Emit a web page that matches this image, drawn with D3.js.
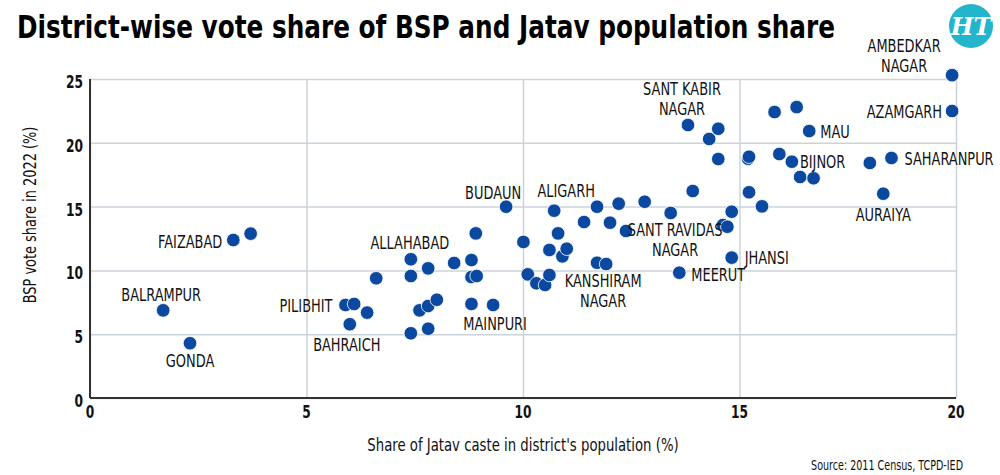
<html>
<head>
<script src="https://cdnjs.cloudflare.com/ajax/libs/d3/7.8.5/d3.min.js"></script>
<style>
  body { margin: 0; background: #fff; }
  svg text { font-family: "Liberation Sans Narrow", "DejaVu Sans Condensed", "Roboto", sans-serif; }
</style>
</head>
<body>
<div id="chart"></div>
<script>

// data
var district = ["BALRAMPUR", "GONDA", "FAIZABAD", "", "PILIBHIT", "", "", "BAHRAICH", "", "ALLAHABAD",
  "", "", "", "", "", "", "", "", "", "",
  "", "", "", "MAINPURI", "BUDAUN", "", "", "", "", "",
  "", "ALIGARH", "", "", "", "", "", "", "KANSHIRAM NAGAR", "",
  "", "SANT RAVIDAS NAGAR", "", "", "MEERUT", "SANT KABIR NAGAR", "", "", "", "",
  "", "", "", "JHANSI", "", "", "", "", "", "",
  "BIJNOR", "", "", "MAU", "", "", "AURAIYA", "SAHARANPUR", "AZAMGARH", "AMBEDKAR NAGAR"];

var jatavShare = [1.69, 2.31, 3.31, 3.71, 5.90, 6.10, 6.40, 6.00, 6.61, 7.41,
  7.41, 7.81, 8.41, 8.81, 8.81, 8.93, 8.91, 7.61, 7.81, 8.01,
  7.41, 7.81, 8.81, 9.31, 9.61, 10.01, 10.11, 10.31, 10.51, 10.61,
  10.61, 10.72, 10.81, 10.91, 11.01, 11.41, 11.71, 11.71, 11.92, 12.01,
  12.21, 12.38, 12.81, 13.41, 13.61, 13.81, 13.92, 14.30, 14.51, 14.51,
  14.62, 14.72, 14.82, 14.82, 15.20, 15.22, 15.22, 15.52, 15.81, 15.92,
  16.21, 16.32, 16.40, 16.61, 16.71, 18.01, 18.32, 18.51, 19.91, 19.91];

var bspShare = [6.87, 4.29, 12.38, 12.88, 7.29, 7.37, 6.69, 5.78, 9.38, 10.87,
  9.56, 10.16, 10.58, 10.81, 9.48, 9.56, 12.90, 6.87, 7.21, 7.70,
  5.07, 5.43, 7.37, 7.29, 14.99, 12.23, 9.69, 8.99, 8.86, 9.64,
  11.60, 14.68, 12.90, 11.10, 11.70, 13.79, 14.99, 10.60, 10.50, 13.74,
  15.23, 13.09, 15.38, 14.50, 9.82, 21.39, 16.22, 20.30, 21.10, 18.73,
  13.56, 13.42, 14.60, 11.00, 18.75, 18.91, 16.12, 15.02, 22.41, 19.12,
  18.52, 22.80, 17.32, 20.92, 17.22, 18.42, 16.01, 18.81, 22.49, 25.30];

var xTicks = [0, 5, 10, 15, 20];
var yTicks = [0, 5, 10, 15, 20, 25];

// label placement relative to its dot
var labelPos = {
  "AMBEDKAR NAGAR":     {dx: -48, dy: -23, anchor: "middle"},
  "AZAMGARH":           {dx: -10, dy: 7,   anchor: "end"},
  "SANT KABIR NAGAR":   {dx: -6,  dy: -30, anchor: "middle", split: 2},
  "MAU":                {dx: 11,  dy: 7,   anchor: "start"},
  "BIJNOR":             {dx: 8,   dy: 6,   anchor: "start"},
  "SAHARANPUR":         {dx: 13,  dy: 7,   anchor: "start"},
  "AURAIYA":            {dx: 0,   dy: 27,  anchor: "middle"},
  "JHANSI":             {dx: 13,  dy: 6,   anchor: "start"},
  "MEERUT":             {dx: 12,  dy: 8,   anchor: "start"},
  "SANT RAVIDAS NAGAR": {dx: 49,  dy: 5,   anchor: "middle", split: 2},
  "KANSHIRAM NAGAR":    {dx: -3,  dy: 23,  anchor: "middle"},
  "MAINPURI":           {dx: 2,   dy: 25,  anchor: "middle"},
  "ALLAHABAD":          {dx: -1,  dy: -10, anchor: "middle"},
  "BUDAUN":             {dx: -13, dy: -8,  anchor: "middle"},
  "ALIGARH":            {dx: 12,  dy: -14, anchor: "middle"},
  "FAIZABAD":           {dx: -11, dy: 8,   anchor: "end"},
  "BALRAMPUR":          {dx: -2,  dy: -9,  anchor: "middle"},
  "GONDA":              {dx: 0,   dy: 24,  anchor: "middle"},
  "PILIBHIT":           {dx: -13, dy: 7,   anchor: "end"},
  "BAHRAICH":           {dx: -3,  dy: 27,  anchor: "middle"}
};

var W = 1000, H = 475;
var plotL = 90, plotR = 956, plotT = 79, plotB = 398;
var squeeze = 0.8;   // the original uses a condensed face

var svg = d3.select("#chart").append("svg")
  .attr("width", W)
  .attr("height", H);

var x = d3.scaleLinear().domain([0, 20]).range([plotL, plotR]);
var y = d3.scaleLinear().domain([0, 25]).range([plotB, plotT]);

// put a text at (px,py) squeezed horizontally
function narrowText(g, px, py, sx) {
  return g.append("text")
    .attr("transform", "translate(" + px + "," + py + ") scale(" + sx + ",1)");
}

// title
svg.append("text")
  .attr("x", 17)
  .attr("y", 38)
  .attr("textLength", 818)
  .attr("lengthAdjust", "spacingAndGlyphs")
  .style("font-size", "32px")
  .style("font-weight", "bold")
  .style("fill", "#000")
  .text("District-wise vote share of BSP and Jatav population share");

// HT logo
svg.append("circle")
  .attr("cx", 971).attr("cy", 26).attr("r", 22)
  .style("fill", "#22b5cb");
svg.append("text")
  .attr("x", 971).attr("y", 35)
  .attr("text-anchor", "middle")
  .style("font-family", "'DejaVu Serif', serif")
  .style("font-size", "24px")
  .style("font-weight", "bold")
  .style("font-style", "italic")
  .style("fill", "#fff")
  .text("HT");

// grid lines from the axes
var yAxis = svg.append("g")
  .attr("transform", "translate(" + plotL + ",0)")
  .call(d3.axisLeft(y).tickValues(yTicks).tickSize(-(plotR - plotL)).tickFormat(""));
yAxis.select(".domain").remove();
yAxis.selectAll("line").style("stroke", "#cbd3da").style("stroke-width", 1.5);

var xAxis = svg.append("g")
  .attr("transform", "translate(0," + plotB + ")")
  .call(d3.axisBottom(x).tickValues(xTicks).tickSize(-(plotB - plotT)).tickFormat(""));
xAxis.select(".domain").remove();
xAxis.selectAll("line").style("stroke", "#cbd3da").style("stroke-width", 1.5);

// tick labels
yTicks.forEach(function(v) {
  narrowText(svg, plotL - 7, y(v) + 9, squeeze)
    .attr("text-anchor", "end")
    .style("font-size", "17px")
    .style("font-weight", "bold")
    .style("fill", "#111")
    .text(v);
});
xTicks.forEach(function(v) {
  narrowText(svg, x(v), 418, squeeze)
    .attr("text-anchor", "middle")
    .style("font-size", "17px")
    .style("font-weight", "bold")
    .style("fill", "#111")
    .text(v);
});

// axis lines
svg.append("line")
  .attr("x1", plotL).attr("x2", plotL).attr("y1", plotT).attr("y2", plotB)
  .style("stroke", "#333").style("stroke-width", 2);
svg.append("line")
  .attr("x1", plotL).attr("x2", plotR).attr("y1", plotB).attr("y2", plotB)
  .style("stroke", "#333").style("stroke-width", 2);

// axis titles
svg.append("text")
  .attr("transform", "translate(36,215) rotate(-90) scale(" + squeeze + ",1)")
  .attr("text-anchor", "middle")
  .style("font-size", "18px")
  .style("fill", "#111")
  .text("BSP vote share in 2022 (%)");

narrowText(svg, 523, 451, 0.82)
  .attr("text-anchor", "middle")
  .style("font-size", "18px")
  .style("fill", "#111")
  .text("Share of Jatav caste in district's population (%)");

narrowText(svg, 963, 470, 0.76)
  .attr("text-anchor", "end")
  .style("font-size", "14px")
  .style("fill", "#111")
  .text("Source: 2011 Census, TCPD-IED");

// dots
var points = jatavShare.map(function(v, i) {
  return {x: v, y: bspShare[i], name: district[i]};
});

svg.append("g")
  .selectAll("circle")
  .data(points)
  .enter()
  .append("circle")
  .attr("cx", function(d) { return x(d.x); })
  .attr("cy", function(d) { return y(d.y); })
  .attr("r", 6.8)
  .style("fill", "#0b49a0")
  .style("stroke", "#fff")
  .style("stroke-width", 0.8);

// labels
var labelled = points.filter(function(d) { return d.name; });
var lab = svg.append("g")
  .selectAll("text")
  .data(labelled)
  .enter()
  .append("text")
  .attr("transform", function(d) {
    var p = labelPos[d.name];
    return "translate(" + (x(d.x) + p.dx) + "," + (y(d.y) + p.dy) + ") scale(" + squeeze + ",1)";
  })
  .attr("text-anchor", function(d) { return labelPos[d.name].anchor; })
  .style("font-size", "18px")
  .style("fill", "#111");

lab.each(function(d) {
  var words = d.name.split(" ");
  var n = labelPos[d.name].split || 1;
  var lines = words.length > 1 ? [words.slice(0, n).join(" "), words.slice(n).join(" ")] : [d.name];
  var t = d3.select(this);
  lines.forEach(function(l, i) {
    t.append("tspan")
      .attr("x", 0)
      .attr("dy", i == 0 ? 0 : 20)
      .text(l);
  });
});

</script>
</body>
</html>
